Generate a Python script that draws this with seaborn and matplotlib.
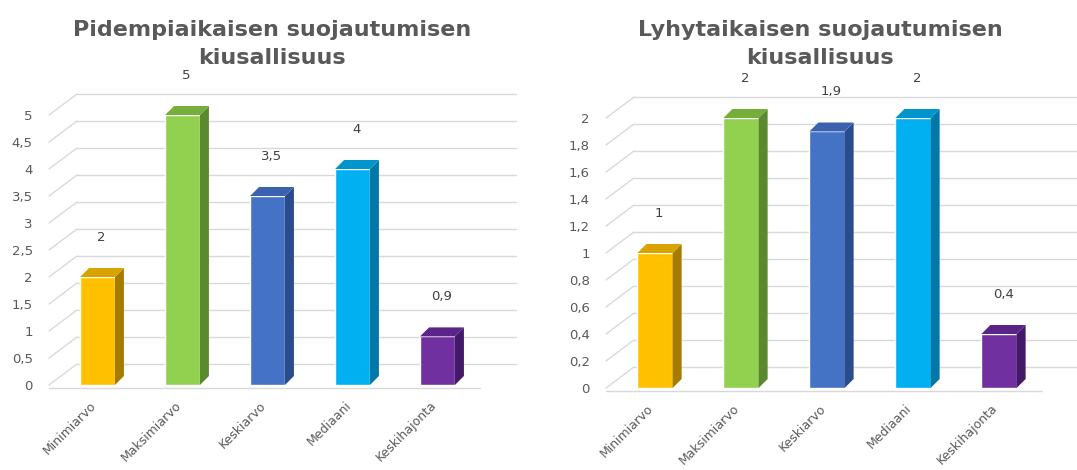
"""
Kiusallisuus - two 3D-style bar charts
"""

import numpy as np
import matplotlib
matplotlib.use("Agg")
import matplotlib.pyplot as plt
import seaborn as sns
from matplotlib.patches import Polygon
from matplotlib.lines import Line2D
from matplotlib.transforms import IdentityTransform, ScaledTranslation

# === Data ===
categories = ["Minimiarvo", "Maksimiarvo", "Keskiarvo", "Mediaani", "Keskihajonta"]
long_values = [2, 5, 3.5, 4, 0.9]
short_values = [1, 2, 1.9, 2, 0.4]

long_title = "Pidempiaikaisen suojautumisen\nkiusallisuus"
short_title = "Lyhytaikaisen suojautumisen\nkiusallisuus"

long_ticks = [0, 0.5, 1, 1.5, 2, 2.5, 3, 3.5, 4, 4.5, 5]
short_ticks = [0, 0.2, 0.4, 0.6, 0.8, 1, 1.2, 1.4, 1.6, 1.8, 2]

# === Colors ===
front_colors = ["#FFC000", "#92D050", "#4472C4", "#00B0F0", "#7030A0"]
side_colors = ["#A67C00", "#5B8A2E", "#2B4C8C", "#0078A8", "#45196A"]
top_colors = ["#D9A300", "#76AE3C", "#3A62AE", "#0096CC", "#5A2488"]
GRID = "#D9D9D9"
TEXT = "#595959"

DPI = 100
sns.set_theme(style="white")
plt.rcParams["font.family"] = ["DejaVu Sans"]


def fmt(v):
    return f"{v:g}".replace(".", ",")


def draw_panel(ax, values, ticks, title, title_x):
    sns.barplot(x=categories, y=values, hue=categories, palette=front_colors,
                legend=False, width=0.41, saturation=1, ax=ax, zorder=3)
    ax.set_xlim(-0.5, 4.5)
    ax.set_ylim(0, ticks[-1])
    ax.set_yticks(ticks)
    ax.set_yticklabels([fmt(t) for t in ticks], color=TEXT, fontsize=9.5)
    ax.set_xticks(range(len(categories)))
    ax.set_xticklabels(categories, rotation=45, ha="right", rotation_mode="anchor",
                       color=TEXT, fontsize=9)
    ax.tick_params(axis="both", length=0)
    ax.tick_params(axis="y", pad=16)
    ax.tick_params(axis="x", pad=10)
    shift = ScaledTranslation(-8 / DPI, 0, ax.figure.dpi_scale_trans)
    for lab in ax.get_xticklabels():
        lab.set_transform(lab.get_transform() + shift)
    ax.set_xlabel("")
    ax.set_ylabel("")
    for sp in ax.spines.values():
        sp.set_visible(False)
    ax.grid(False)
    ax.patch.set_alpha(0)

    # back wall / floor in perspective
    gdx, gdy = 28, 21
    L, y0 = ax.transData.transform((-0.5, 0))
    R, _ = ax.transData.transform((4.5, 0))
    L -= 6
    fig = ax.figure
    for t in ticks:
        _, yt = ax.transData.transform((0, t))
        fig.add_artist(Line2D([L + gdx, R + gdx + 8], [yt + gdy, yt + gdy],
                              color=GRID, lw=1, transform=IdentityTransform(), zorder=0))
        fig.add_artist(Line2D([L, L + gdx], [yt, yt + gdy],
                              color=GRID, lw=1, transform=IdentityTransform(), zorder=0))
    fig.add_artist(Line2D([L, R], [y0 - 3, y0 - 3], color=GRID, lw=1,
                          transform=IdentityTransform(), zorder=0))

    # bar depth
    dx, dy = 9, 9
    for i, patch in enumerate(list(ax.patches)):
        x0, yb = patch.get_x(), patch.get_y()
        w, h = patch.get_width(), patch.get_height()
        px0, py0 = ax.transData.transform((x0, yb))
        px1, py1 = ax.transData.transform((x0 + w, yb + h))
        side = [(px1, py0), (px1 + dx, py0 + dy), (px1 + dx, py1 + dy), (px1, py1)]
        top = [(px0, py1), (px0 + dx, py1 + dy), (px1 + dx, py1 + dy), (px1, py1)]
        ax.add_patch(Polygon(side, closed=True, transform=IdentityTransform(),
                             fc=side_colors[i], ec="none", clip_on=False, zorder=3))
        ax.add_patch(Polygon(top, closed=True, transform=IdentityTransform(),
                             fc=top_colors[i], ec="none", clip_on=False, zorder=3))
        ax.annotate(fmt(values[i]), (x0 + w / 2, yb + h), xytext=(3, 24),
                    textcoords="offset points", ha="center", va="bottom",
                    fontsize=9.5, color="#404040", annotation_clip=False)

    fig.text(title_x, 1 - 44 / 470, title, ha="center", va="center",
             fontsize=16, fontweight="bold", color=TEXT, linespacing=1.55)


fig = plt.figure(figsize=(1077 / DPI, 470 / DPI), dpi=DPI)
ax1 = fig.add_axes([55 / 1077, 85 / 470, 425 / 1077, 270 / 470])
ax2 = fig.add_axes([612 / 1077, 82 / 470, 430 / 1077, 270 / 470])

draw_panel(ax1, long_values, long_ticks, long_title, 272 / 1077)
draw_panel(ax2, short_values, short_ticks, short_title, 820 / 1077)

fig.savefig("out.png", dpi=DPI)
plt.close(fig)
